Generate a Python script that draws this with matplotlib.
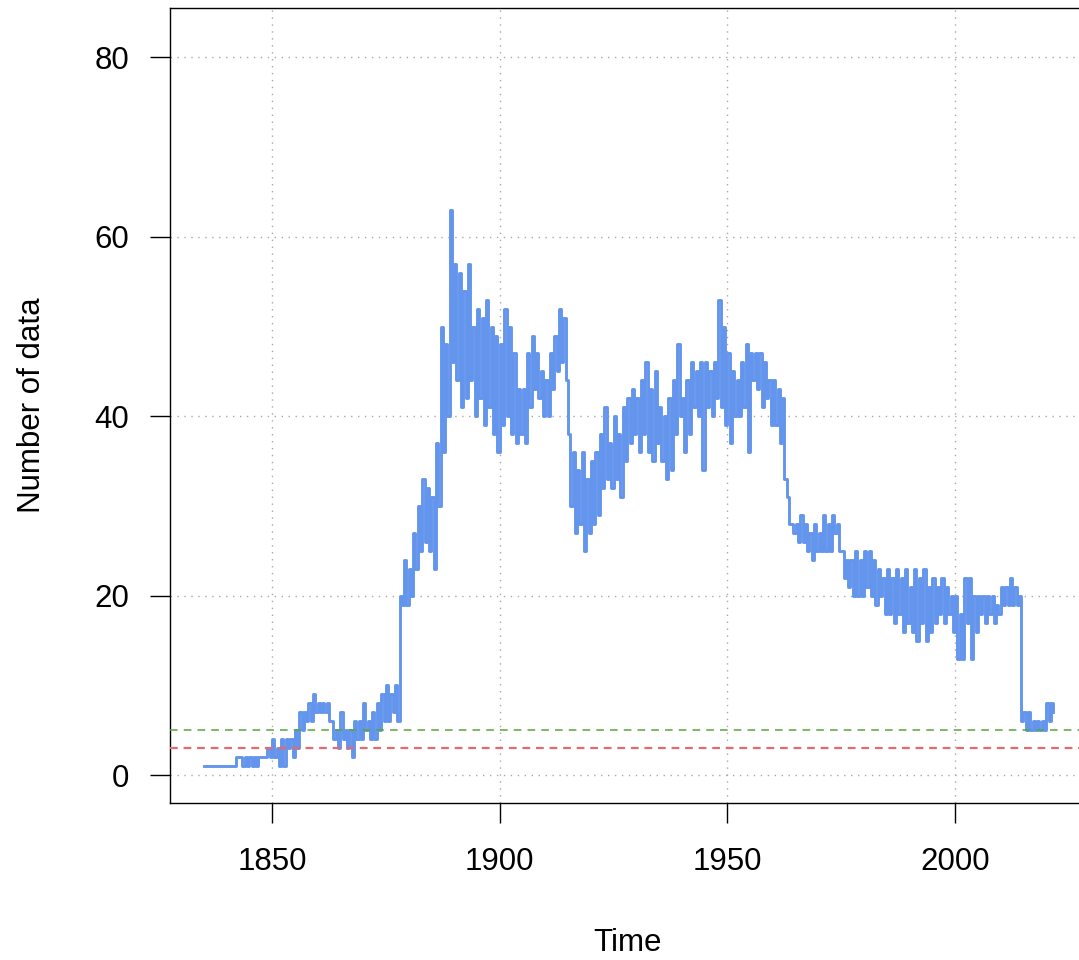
import numpy as np
import matplotlib
matplotlib.use("Agg")
import matplotlib.pyplot as plt

plt.rcParams['font.family'] = ['Liberation Sans', 'DejaVu Sans']

# yearly values: upper and lower level reached within each year
years = np.arange(1835, 2022)
high = [1, 1, 1, 1, 1,
        1, 1, 2, 2, 2, 2, 2, 2, 2, 3,
        4, 3, 4, 4, 4, 5, 7, 7, 8, 9,
        8, 8, 8, 6, 5, 7, 5, 5, 6, 6,
        8, 6, 7, 8, 9, 10, 9, 10, 20, 24,
        23, 27, 30, 33, 32, 31, 37, 50, 48, 63,
        57, 56, 54, 57, 50, 52, 51, 53, 50, 49,
        48, 52, 50, 47, 43, 43, 47, 49, 47, 45,
        44, 47, 49, 52, 51, 38, 36, 34, 36, 33,
        35, 36, 38, 41, 37, 40, 38, 41, 42, 43,
        42, 44, 46, 43, 45, 41, 40, 42, 44, 48,
        42, 44, 46, 45, 46, 46, 45, 46, 53, 50,
        47, 45, 44, 46, 48, 47, 47, 47, 46, 44,
        44, 43, 42, 31, 28, 28, 29, 28, 27, 28,
        27, 29, 28, 29, 28, 25, 24, 24, 25, 24,
        25, 25, 24, 23, 22, 23, 22, 23, 22, 23,
        21, 23, 22, 23, 21, 22, 21, 22, 21, 20,
        20, 18, 22, 22, 20, 20, 20, 20, 20, 19,
        21, 21, 22, 21, 20, 7, 7, 6, 6, 6,
        8, 8]
low = [1, 1, 1, 1, 1,
       1, 1, 2, 1, 1, 1, 1, 2, 2, 2,
       2, 1, 1, 3, 2, 3, 5, 6, 6, 7,
       7, 7, 6, 4, 3, 4, 3, 2, 4, 4,
       5, 4, 4, 5, 6, 6, 7, 6, 19, 19,
       20, 23, 25, 26, 25, 23, 30, 36, 40, 46,
       44, 41, 42, 44, 40, 42, 39, 41, 38, 36,
       39, 40, 38, 37, 38, 37, 41, 43, 42, 40,
       40, 43, 45, 46, 44, 30, 27, 28, 25, 27,
       28, 29, 32, 33, 32, 33, 31, 35, 37, 38,
       36, 38, 36, 35, 37, 35, 33, 34, 38, 40,
       36, 38, 41, 40, 34, 41, 40, 42, 41, 39,
       37, 40, 40, 41, 36, 44, 43, 41, 42, 39,
       39, 37, 33, 28, 27, 26, 26, 25, 24, 25,
       25, 25, 25, 27, 25, 22, 21, 20, 20, 20,
       21, 20, 19, 20, 18, 18, 17, 18, 16, 17,
       16, 15, 17, 15, 16, 17, 18, 17, 18, 16,
       13, 13, 17, 13, 16, 18, 17, 18, 17, 18,
       19, 19, 19, 19, 6, 5, 5, 5, 5, 5,
       6, 7]

green_level = 5
red_level = 3
xticks = [1850, 1900, 1950, 2000]
yticks = [0, 20, 40, 60, 80]

t = np.column_stack([years, years + 0.5]).ravel()
v = np.column_stack([high, low]).ravel()

fig = plt.figure(figsize=(10.79, 9.6), dpi=100)
ax = fig.add_axes([170 / 1079, 157 / 960, 914.5 / 1079, 795 / 960])

for x in xticks:
    ax.axvline(x, color='#a8a8a8', lw=1, ls=(0, (1, 4)), zorder=0)
for y in yticks:
    ax.axhline(y, color='#a8a8a8', lw=1, ls=(0, (1, 4)), zorder=0)

ax.plot(t, v, color='#6495ED', lw=2.1, drawstyle='steps-post', zorder=2)
ax.axhline(green_level, color='#5aa53a', lw=1.1, ls=(0, (5, 4)), zorder=3)
ax.axhline(red_level, color='#e46b6b', lw=1.6, ls=(0, (3.5, 2.6)), zorder=3)

ax.set_xlim(1827.6, 2028.4)
ax.set_ylim(-3.1, 85.5)
ax.set_xticks(xticks)
ax.set_yticks(yticks)
ax.tick_params(axis='both', direction='out', length=14.5, width=1,
               labelsize=22.5, colors='black')
ax.tick_params(axis='x', pad=17)
ax.tick_params(axis='y', pad=15)
for s in ax.spines.values():
    s.set_linewidth(1)
ax.spines['right'].set_visible(False)

ax.set_xlabel('Time', fontsize=22.5, va='center')
ax.xaxis.set_label_coords(0.5, -0.176)
ax.set_ylabel('Number of data', fontsize=22.5, va='center')
ax.yaxis.set_label_coords(-0.151, 0.5)

fig.savefig('out.png', dpi=100)
